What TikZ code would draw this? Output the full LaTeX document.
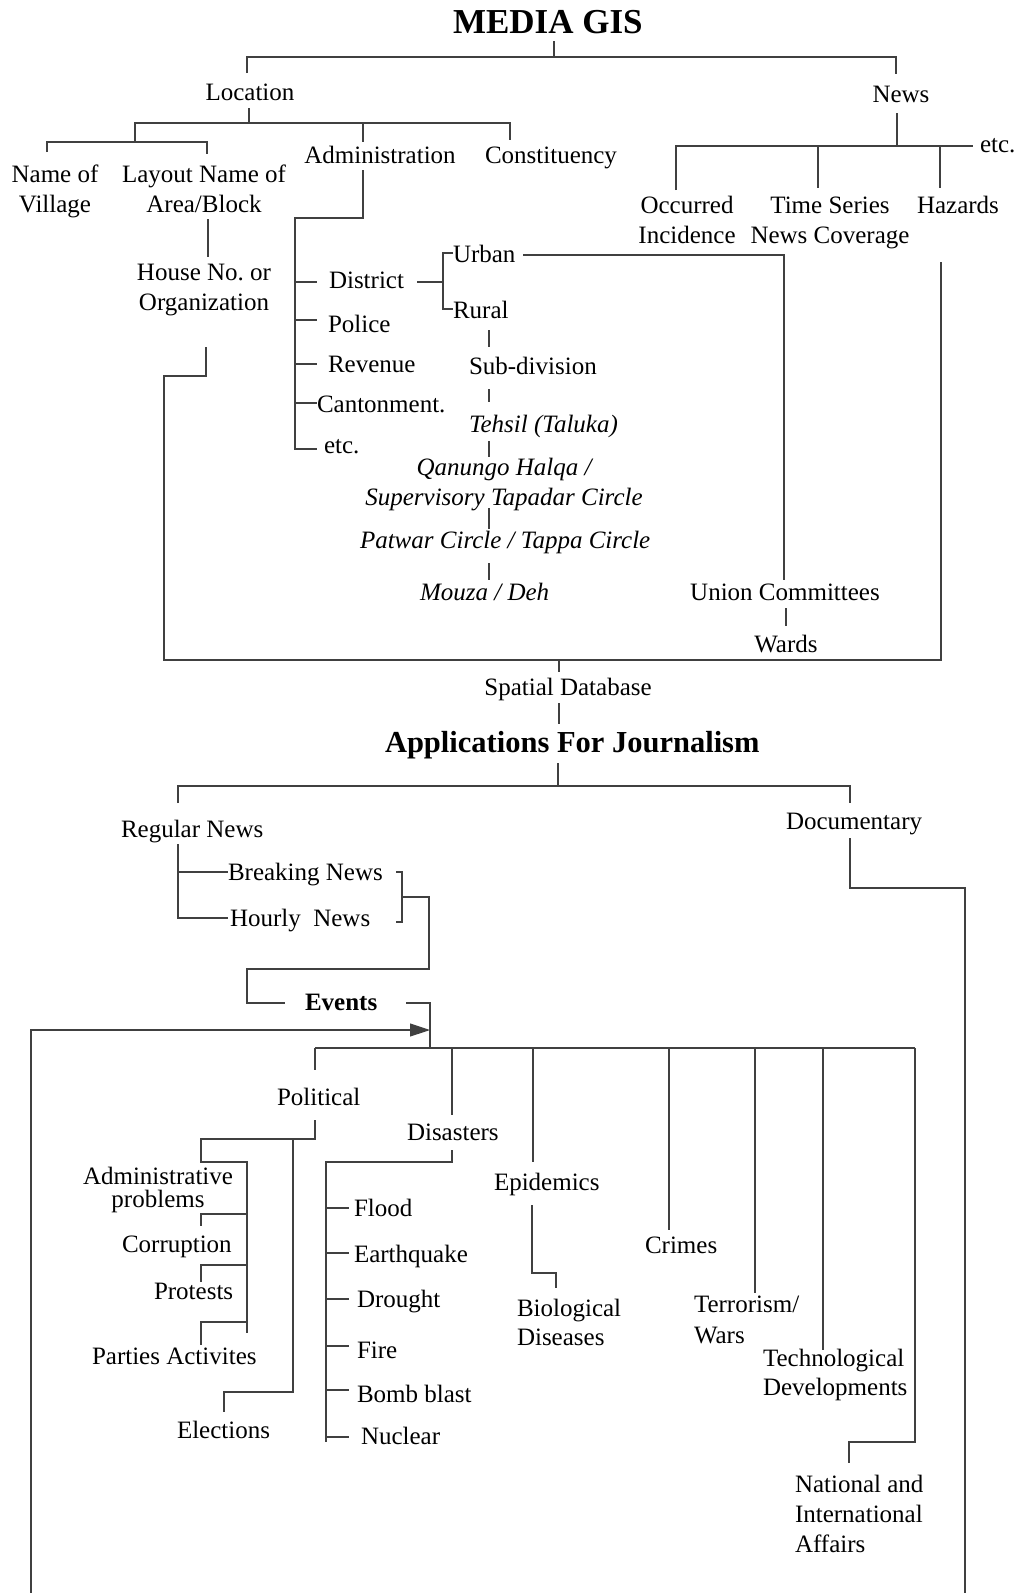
\documentclass[tikz,border=0pt]{standalone}
\usepackage{fontspec}
\setmainfont{Liberation Serif}
\usetikzlibrary{arrows.meta}
\newcommand\mlc[2]{\vtop{\baselineskip=#1pt\lineskiplimit=-100pt\halign{\hfil##\hfil\cr#2\crcr}}}
\newcommand\mll[2]{\vtop{\baselineskip=#1pt\lineskiplimit=-100pt\halign{##\hfil\cr#2\crcr}}}
\frenchspacing
\begin{document}
\begin{tikzpicture}[x=1pt,y=-1pt,
  every node/.style={inner sep=0pt,outer sep=0pt},
  txt/.style={font=\fontsize{25}{30}\selectfont},
  ctr/.style={txt,anchor=base},
  lft/.style={txt,anchor=base west},
  conn/.style={draw=black!75,line width=1.1pt}]
\useasboundingbox (0,0) rectangle (1018,1593);

% ---------- titles ----------
\node[anchor=base west,font=\fontsize{35}{40}\selectfont\bfseries] (media) at (453,33) {MEDIA GIS};
\node[anchor=base west,font=\fontsize{30.5}{36}\selectfont\bfseries] (apps) at (385,752) {Applications For Journalism};

% ---------- upper nodes ----------
\node[ctr] (loc) at (250,100) {Location};
\node[ctr] (news) at (901,102) {News};
\node[ctr] (village) at (55,182) {\mlc{30}{Name of\cr Village}};
\node[ctr] (layout) at (204,182) {\mlc{30}{Layout Name of\cr Area/Block}};
\node[ctr] (admin) at (380,163) {Administration};
\node[ctr] (const) at (551,163) {Constituency};
\node[ctr] (occ) at (687,213) {\mlc{30}{Occurred\cr Incidence}};
\node[ctr] (tseries) at (830,213) {\mlc{30}{Time Series\cr News Coverage}};
\node[ctr] (haz) at (958,213) {Hazards};
\node[lft] (newsetc) at (980,152) {etc.};
\node[ctr] (house) at (204,280) {\mlc{30}{House No.\ or\cr Organization}};
\node[lft] (district) at (329,288) {District};
\node[lft] (police) at (328,332) {Police};
\node[lft] (revenue) at (328,372) {Revenue};
\node[lft] (cant) at (317,412) {Cantonment.};
\node[lft] (admetc) at (324,453) {etc.};
\node[lft] (urban) at (453,262) {Urban};
\node[lft] (rural) at (453,318) {Rural};
\node[lft] (subdiv) at (469,374) {Sub-division};
\node[lft] (tehsil) at (469,432) {\textit{Tehsil (Taluka)}};
\node[ctr] (qanungo) at (504,475) {\itshape\mlc{30}{Qanungo Halqa /\cr Supervisory Tapadar Circle}};
\node[lft] (patwar) at (360,548) {\textit{Patwar Circle / Tappa Circle}};
\node[lft] (mouza) at (420,600) {\textit{Mouza / Deh}};
\node[ctr] (union) at (785,600) {Union Committees};
\node[ctr] (wards) at (786,652) {Wards};
\node[ctr] (spatial) at (568,695) {Spatial Database};

% ---------- lower nodes ----------
\node[lft] (regular) at (121,837) {Regular News};
\node[lft] (doc) at (786,829) {Documentary};
\node[lft] (breaking) at (228,880) {Breaking News};
\node[lft] (hourly) at (230,926) {Hourly~~News};
\node[lft,font=\fontsize{25}{30}\selectfont\bfseries] (events) at (305,1010) {Events};
\node[lft] (political) at (277,1105) {Political};
\node[lft] (disasters) at (407,1140) {Disasters};
\node[lft] (epid) at (494,1190) {Epidemics};
\node[lft] (crimes) at (645,1253) {Crimes};
\node[lft] (terror) at (694,1312) {\mll{31}{Terrorism/\cr Wars}};
\node[lft] (tech) at (763,1366) {\mll{29}{Technological\cr Developments}};
\node[lft] (bio) at (517,1316) {\mll{29}{Biological\cr Diseases}};
\node[lft] (natl) at (795,1492) {\mll{30}{National and\cr International\cr Affairs}};
\node[ctr] (admprob) at (158,1184) {\mlc{23}{Administrative\cr problems}};
\node[lft] (corrupt) at (122,1252) {Corruption};
\node[lft] (protests) at (154,1299) {Protests};
\node[lft] (parties) at (92,1364) {Parties Activites};
\node[lft] (elections) at (177,1438) {Elections};
\node[lft] (flood) at (354,1216) {Flood};
\node[lft] (quake) at (354,1262) {Earthquake};
\node[lft] (drought) at (357,1307) {Drought};
\node[lft] (fire) at (357,1358) {Fire};
\node[lft] (bomb) at (357,1402) {Bomb blast};
\node[lft] (nuclear) at (361,1444) {Nuclear};

% ---------- upper connectors ----------
\draw[conn] (554,41)--(554,57);
\draw[conn] (247,73)--(247,57)--(896,57)--(896,74);
\draw[conn] (249,108)--(249,123);
\draw[conn] (135,142)--(135,123)--(510,123)--(510,140);
\draw[conn] (363,123)--(363,142);
\draw[conn] (47,152)--(47,142)--(207,142)--(207,154);
\draw[conn] (208,219)--(208,257);
\draw[conn] (363,170)--(363,218)--(295,218)--(295,449)--(317,449);
\foreach \yy in {282,320,364,403} \draw[conn] (295,\yy)--(317,\yy);
\draw[conn] (417,282)--(443,282);
\draw[conn] (453,253)--(443,253)--(443,309)--(453,309);
\draw[conn] (523,255)--(784,255)--(784,580);
\draw[conn] (489,330)--(489,347);
\draw[conn] (489,389)--(489,402);
\draw[conn] (489,441)--(489,457);
\draw[conn] (489,508)--(489,529);
\draw[conn] (489,563)--(489,580);
\draw[conn] (786,608)--(786,626);
\draw[conn] (897,113)--(897,146);
\draw[conn] (676,190)--(676,146)--(973,146);
\draw[conn] (818,146)--(818,188);
\draw[conn] (940,146)--(940,188);
\draw[conn] (206,347)--(206,376)--(164,376)--(164,660)--(941,660)--(941,262);
\draw[conn] (559,660)--(559,672);
\draw[conn] (559,703)--(559,724);

% ---------- lower connectors ----------
\draw[conn] (558,763)--(558,786);
\draw[conn] (178,803)--(178,786)--(850,786)--(850,803);
\draw[conn] (178,844)--(178,918)--(228,918);
\draw[conn] (178,872)--(228,872);
\draw[conn] (396,872)--(402,872)--(402,922)--(396,922);
\draw[conn] (402,897)--(429,897)--(429,969)--(247,969)--(247,1003)--(285,1003);
\draw[conn] (406,1003)--(430,1003)--(430,1048);
\draw[conn,-{Triangle[length=20pt,width=13pt]}] (31,1593)--(31,1030)--(430,1030);
\draw[conn] (850,838)--(850,888)--(965,888)--(965,1593);
\draw[conn] (315,1048)--(915,1048);
\draw[conn] (315,1048)--(315,1070);
\draw[conn] (452,1048)--(452,1115);
\draw[conn] (533,1048)--(533,1162);
\draw[conn] (669,1048)--(669,1230);
\draw[conn] (755,1048)--(755,1293);
\draw[conn] (823,1048)--(823,1350);
\draw[conn] (915,1048)--(915,1442)--(849,1442)--(849,1463);
\draw[conn] (315,1120)--(315,1139)--(201,1139)--(201,1162)--(247,1162)--(247,1333);
\draw[conn] (293,1139)--(293,1392)--(224,1392)--(224,1412);
\draw[conn] (247,1214)--(201,1214)--(201,1226);
\draw[conn] (247,1265)--(201,1265)--(201,1282);
\draw[conn] (247,1322)--(201,1322)--(201,1345);
\draw[conn] (452,1150)--(452,1162)--(326,1162)--(326,1442);
\foreach \yy in {1208,1253,1299,1346,1390,1437} \draw[conn] (326,\yy)--(349,\yy);
\draw[conn] (532,1205)--(532,1273)--(556,1273)--(556,1288);
\end{tikzpicture}
\end{document}
